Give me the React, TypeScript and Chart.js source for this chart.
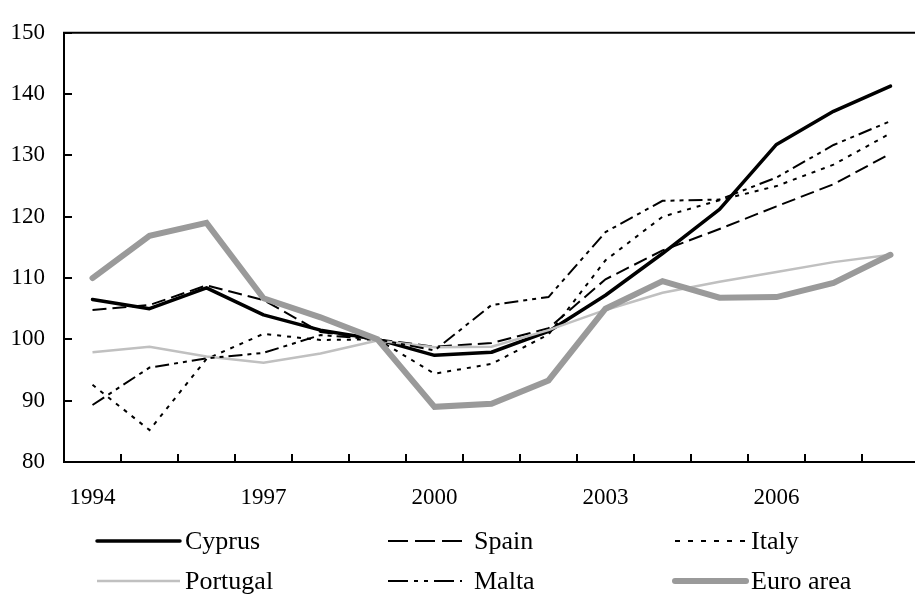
import React, { useEffect, useRef } from 'react';
import { Chart, registerables } from 'chart.js';

Chart.register(...registerables);

const years = ['1994', '1995', '1996', '1997', '1998', '1999', '2000', '2001', '2002', '2003', '2004', '2005', '2006', '2007', '2008'];
const labeledYears = ['1994', '1997', '2000', '2003', '2006'];
const yMin = 80;
const yMax = 150;
const yStep = 10;

const cyprus = [106.5, 105.0, 108.4, 104.0, 101.5, 100, 97.4, 97.9, 101.3, 107.2, 114.0, 121.2, 131.8, 137.2, 141.3];
const spain = [104.8, 105.6, 108.8, 106.4, 101.2, 100, 98.8, 99.4, 101.8, 109.8, 114.5, 118.0, 121.7, 125.3, 130.3];
const italy = [92.6, 85.2, 96.8, 100.9, 99.9, 100, 94.4, 96.0, 100.8, 112.9, 120.0, 122.7, 125.0, 128.5, 133.6];
const portugal = [97.9, 98.8, 97.2, 96.2, 97.7, 99.8, 98.7, 98.8, 101.5, 104.8, 107.6, 109.4, 111.0, 112.6, 113.8];
const malta = [89.3, 95.4, 96.9, 97.8, 100.7, 100, 98.2, 105.6, 106.9, 117.5, 122.6, 122.8, 126.4, 131.7, 135.6];
const euroArea = [110.0, 116.9, 119.0, 106.7, 103.6, 100, 89.0, 89.5, 93.3, 105.0, 109.5, 106.8, 106.9, 109.2, 113.8];

const TICK_FONT = { family: '"Liberation Serif", serif', size: 23 };
const LEGEND_FONT = '26px "Liberation Serif", serif';
const legendCols = [
  { x0: 97, x1: 180, tx: 185 },
  { x0: 388, x1: 462, tx: 474 },
  { x0: 675, x1: 746, tx: 751 },
];
const legendRows = [541, 581];
const legendDashes: Record<string, number[]> = {
  Spain: [20, 7],
  Italy: [5, 8],
  Malta: [20, 6, 4, 6, 4, 6],
};

const framePlugin = {
  id: 'frameAndLegend',
  afterDraw(chart: any) {
    const ctx = chart.ctx as CanvasRenderingContext2D;
    const { left, right, top, bottom } = chart.chartArea;
    const xs = chart.scales.x;
    const ys = chart.scales.y;
    ctx.save();
    ctx.strokeStyle = '#000';
    ctx.lineWidth = 2;
    ctx.setLineDash([]);
    ctx.beginPath();
    ctx.moveTo(left - 1, top);
    ctx.lineTo(right + 2, top);
    const n = chart.data.labels.length;
    for (let i = 0; i < n - 1; i++) {
      const px = Math.round((xs.getPixelForValue(i) + xs.getPixelForValue(i + 1)) / 2);
      ctx.moveTo(px, bottom);
      ctx.lineTo(px, bottom - 8);
    }
    ys.ticks.forEach((t: any) => {
      const py = Math.round(ys.getPixelForValue(t.value));
      ctx.moveTo(left, py);
      ctx.lineTo(left + 8, py);
    });
    ctx.stroke();

    // legend
    chart.data.datasets.forEach((ds: any, i: number) => {
      const col = legendCols[i % 3];
      const y = legendRows[Math.floor(i / 3)];
      ctx.beginPath();
      ctx.strokeStyle = ds.borderColor;
      ctx.lineWidth = ds.borderWidth;
      ctx.lineCap = ds.borderCapStyle || 'butt';
      ctx.setLineDash(legendDashes[ds.label] || ds.borderDash || []);
      ctx.moveTo(col.x0, y);
      ctx.lineTo(col.x1, y);
      ctx.stroke();
      ctx.setLineDash([]);
      ctx.fillStyle = '#000';
      ctx.font = LEGEND_FONT;
      ctx.textBaseline = 'middle';
      ctx.textAlign = 'left';
      ctx.fillText(ds.label, col.tx, y + 1);
    });
    ctx.restore();
  },
};

export default function App() {
  const ref = useRef<HTMLCanvasElement | null>(null);

  useEffect(() => {
    if (!ref.current) return;
    const chart = new Chart(ref.current, {
      type: 'line',
      data: {
        labels: years,
        datasets: [
          { label: 'Cyprus', data: cyprus, borderColor: '#000000', borderWidth: 3.5, borderCapStyle: 'round', borderJoinStyle: 'round', order: 5 },
          { label: 'Spain', data: spain, borderColor: '#000000', borderWidth: 2, borderDash: [14, 6], order: 4 },
          { label: 'Italy', data: italy, borderColor: '#000000', borderWidth: 2, borderDash: [4, 6], order: 3 },
          { label: 'Portugal', data: portugal, borderColor: '#c0c0c0', borderWidth: 2.5, order: 2 },
          { label: 'Malta', data: malta, borderColor: '#000000', borderWidth: 2, borderDash: [14, 5, 4, 5, 4, 5], order: 1 },
          { label: 'Euro area', data: euroArea, borderColor: '#9a9a9a', borderWidth: 6, borderCapStyle: 'round', borderJoinStyle: 'miter', order: 0 },
        ] as any,
      },
      options: {
        responsive: false,
        animation: false,
        devicePixelRatio: 1,
        layout: { padding: { top: 22, left: 0, right: 1, bottom: 88 } },
        elements: { point: { radius: 0, hoverRadius: 0 }, line: { tension: 0, fill: false } },
        plugins: { legend: { display: false }, tooltip: { enabled: false }, title: { display: false } },
        events: [],
        scales: {
          x: {
            type: 'category',
            offset: true,
            grid: { display: false, drawTicks: false },
            border: { display: true, color: '#000', width: 2 },
            ticks: {
              autoSkip: false,
              maxRotation: 0,
              minRotation: 0,
              padding: 22,
              color: '#000',
              font: TICK_FONT,
              callback: (_v: any, i: number) => (labeledYears.includes(years[i]) ? years[i] : ''),
            },
            afterFit: (s: any) => { s.height = 45; },
          },
          y: {
            type: 'linear',
            min: yMin,
            max: yMax,
            grid: { display: false, drawTicks: false },
            border: { display: true, color: '#000', width: 2 },
            ticks: { stepSize: yStep, padding: 19, color: '#000', font: TICK_FONT },
            afterFit: (s: any) => { s.width = 64; },
          },
        },
      } as any,
      plugins: [framePlugin],
    });
    return () => chart.destroy();
  }, []);

  return (
    <div style={{ position: 'fixed', left: 0, top: 0, width: 915, height: 595, overflow: 'hidden', background: '#fff' }}>
      <canvas ref={ref} width={920} height={595} style={{ display: 'block', width: 920, height: 595 }} />
    </div>
  );
}
